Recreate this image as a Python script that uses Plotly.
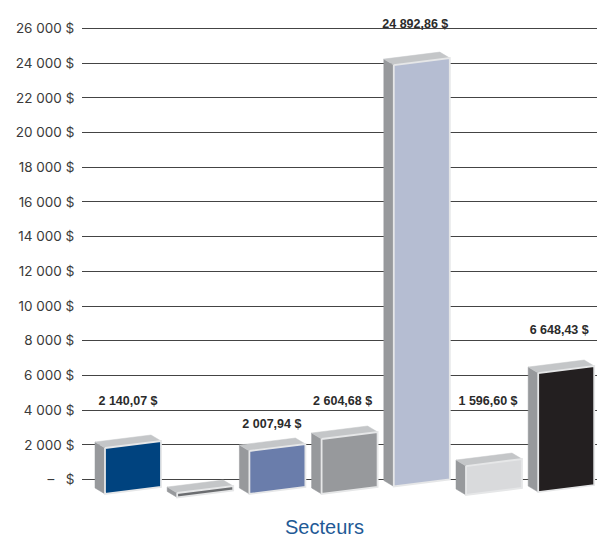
import plotly.graph_objects as go

# Data
sectors = ["S1", "S2", "S3", "S4", "S5", "S6", "S7"]
labels = ["2 140,07 $", "", "2 007,94 $", "2 604,68 $", "24 892,86 $", "1 596,60 $", "6 648,43 $"]
drawn_tops = [2220, -375, 2046, 2738, 24294, 1180, 6542]
drawn_bases = [-430, -630, -430, -430, 0, -490, -320]
label_levels = [4490, 0, 3165, 4490, 26220, 4490, 8585]
label_shifts = [-5, 0, -5.5, -7, -6.5, -6, -7]
colors = ["#00437f", "#6b6d70", "#6a7dab", "#97999c", "#b5bdd2", "#d9dadc", "#231f20"]
tick_values = list(range(0, 26001, 2000))
tick_texts = ["–\u00a0\u00a0\u00a0$"] + [f"{v // 1000}\u00a0000\u00a0$" for v in tick_values[1:]]

# Layout constants (in px, converted to axis units)
W, H = 597, 538
PX_Y = 26000 / 451.0
PX_X = 1 / 72.2
x0_px, y0_px = 133.0, 479.5
left = 82
bw = 56 * PX_X
dx = 10 * PX_X
dy = 6 * PX_Y
slant = 7 * PX_Y

SIDE, TOP, EDGE = "#97999c", "#c4c6c8", "#e6e7e8"
fig = go.Figure()


def poly(xs, ys, fill, line=None, lw=0):
    fig.add_trace(go.Scatter(
        x=xs + xs[:1], y=ys + ys[:1], mode="lines", fill="toself", fillcolor=fill,
        line=dict(color=line or fill, width=lw if lw else 0.5), hoverinfo="skip", showlegend=False))


for i, name in enumerate(sectors):
    xl, xr = i - bw / 2, i + bw / 2
    tr, br = drawn_tops[i], drawn_bases[i]
    tl, bl = tr - slant, br - slant
    poly([xl - dx, xl, xl, xl - dx], [tl + dy, tl, bl, bl + dy], SIDE)
    poly([xl - dx, xr - dx, xr, xl], [tl + dy, tr + dy, tr, tl], TOP)
    poly([xl, xr, xr, xl], [tl, tr, br, bl], colors[i], EDGE, 1.8)

fig.add_trace(go.Scatter(
    x=[i + label_shifts[i] * PX_X for i in range(len(sectors))], y=label_levels, mode="text", text=labels,
    textposition="middle center",
    textfont=dict(family="Liberation Sans Narrow, Liberation Sans", size=12.5, color="#2b2b2b", weight="bold"),
    hoverinfo="skip", showlegend=False, cliponaxis=False))

fig.add_annotation(xref="paper", yref="paper", x=(324 - left) / (W - left), y=(H - 527) / H, text="Secteurs",
                   showarrow=False, xanchor="center", yanchor="middle",
                   font=dict(family="Liberation Sans", size=20, color="#1f5a96"))

fig.update_layout(
    width=W, height=H, autosize=False, paper_bgcolor="white", plot_bgcolor="white",
    margin=dict(l=left, r=0, t=0, b=0), showlegend=False,
    xaxis=dict(range=[(left - x0_px) * PX_X, (W - x0_px) * PX_X], visible=False, fixedrange=True),
    yaxis=dict(range=[-(H - y0_px) * PX_Y, y0_px * PX_Y], tickvals=tick_values, ticktext=tick_texts,
               showgrid=True, gridcolor="#444444", gridwidth=1, zeroline=False, showline=False,
               ticks="outside", ticklen=4, tickcolor="white", fixedrange=True,
               tickfont=dict(family="Inter, Liberation Sans", size=13.5, color="#3a3a3a")),
)
fig.write_html("out.html", config={"displayModeBar": False},
               post_script="document.body.style.margin='0';document.documentElement.style.overflow='hidden';")
